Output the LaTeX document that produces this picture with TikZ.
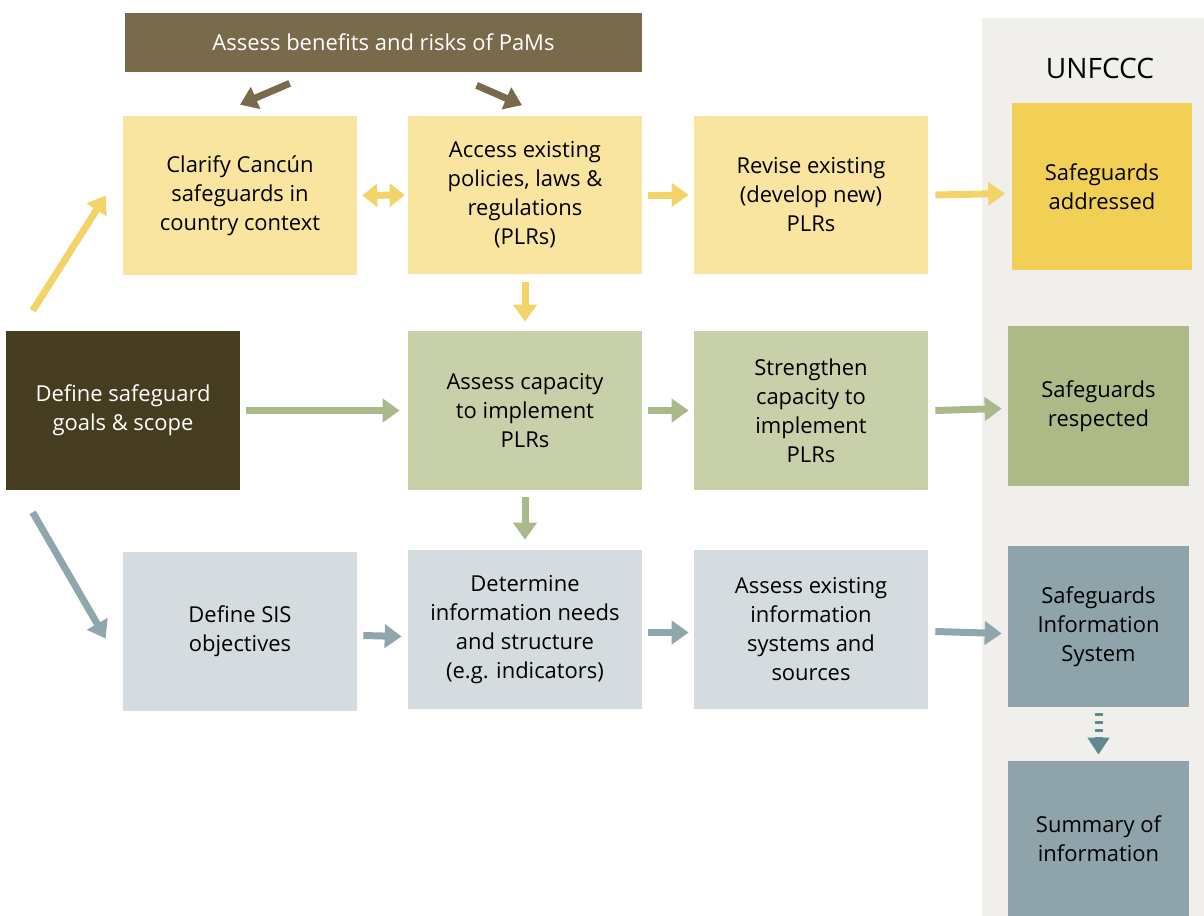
\documentclass[tikz,border=0pt]{standalone}
\usepackage{fontspec}
\setmainfont{Open Sans}
\usepackage{tikz}
\usetikzlibrary{arrows.meta}
\usetikzlibrary{positioning}
\definecolor{banner}{HTML}{7A6A4C}
\definecolor{darkbox}{HTML}{463C20}
\definecolor{panel}{HTML}{F0EFEB}
\definecolor{yelbox}{HTML}{F9E4A0}
\definecolor{yelarr}{HTML}{F2D468}
\definecolor{yelout}{HTML}{F2CF55}
\definecolor{grnbox}{HTML}{C7D0A8}
\definecolor{grnarr}{HTML}{AAB98A}
\definecolor{grnout}{HTML}{ADB987}
\definecolor{blubox}{HTML}{D4DCE0}
\definecolor{bluarr}{HTML}{8FA6AD}
\definecolor{bluout}{HTML}{8EA4AA}
\definecolor{bludash}{HTML}{5F8A8F}
\tikzset{x=0.02cm, y=-0.02cm,
         every node/.style={font=\fontsize{12.5}{16.5}\selectfont}, % text size of all labels
         box/.style={ % Sets the properties for each step box
           minimum width=4.68cm, minimum height=3.18cm,
           inner sep=0pt, align=center},
         outbox/.style={ % boxes in the UNFCCC column
           minimum width=3.62cm, minimum height=3.22cm,
           inner sep=0pt, align=center},
         flow/.style={ % Sets the properties for each thick arrow
           line width=0.14cm,
           -{Triangle[width=0.46cm,length=0.34cm]}}}

\begin{document}
\begin{tikzpicture}
      \useasboundingbox (0,0) rectangle (1204,916);
      \fill[panel] (982,18) rectangle (1204,916);
      \node at (1100,68) {\fontsize{16}{19}\selectfont UNFCCC};

      \node[fill=banner, text=white, minimum width=10.34cm, minimum height=1.18cm,
            inner sep=0pt] (pams) at (383.5,42.5) {Assess benefits and risks of PaMs};

      % first row
      \node[box, fill=yelbox] (clarify) at (240,195.5) {Clarify Cancún\\safeguards in\\country context};
      \node[box, fill=yelbox] (access) at (525,195) {Access existing\\policies, laws \&\\regulations\\(PLRs)};
      \node[box, fill=yelbox] (revise) at (811,195) {Revise existing\\(develop new)\\PLRs};
      \node[outbox, fill=yelout, minimum height=3.34cm] (addressed) at (1102,186.5) {Safeguards\\addressed};

      % second row
      \node[box, fill=darkbox, text=white] (define) at (123,410.5) {Define safeguard\\goals \& scope};
      \node[box, fill=grnbox] (capacity) at (525,410.5) {Assess capacity\\to implement\\PLRs};
      \node[box, fill=grnbox] (strengthen) at (811,410.5) {Strengthen\\capacity to\\implement\\PLRs};
      \node[outbox, fill=grnout] (respected) at (1098.5,406) {Safeguards\\respected};

      % third row
      \node[box, fill=blubox] (sis) at (240,631.5) {Define SIS\\objectives};
      \node[box, fill=blubox] (needs) at (525,629.5) {Determine\\information needs\\and structure\\(e.g. indicators)};
      \node[box, fill=blubox] (systems) at (811,629.5) {Assess existing\\information\\systems and\\sources};
      \node[outbox, fill=bluout] (infosys) at (1098.5,626.5) {Safeguards\\Information\\System};
      \node[outbox, fill=bluout, minimum height=3.1cm] (summary) at (1098.5,838.5) {Summary of\\information};

      % arrows from the banner
      \draw[flow, draw=banner] ([xshift=3.3cm,yshift=-0.22cm]pams.south west) -- ([yshift=0.22cm]clarify.north);
      \draw[flow, draw=banner] ([xshift=7.04cm,yshift=-0.26cm]pams.south west) -- ([xshift=-0.06cm,yshift=0.2cm]access.north);

      % yellow arrows
      \draw[flow, draw=yelarr] ([xshift=0.54cm,yshift=0.4cm]define.north west) -- ([xshift=-0.34cm]clarify.west);
      \draw[flow, draw=yelarr, {Triangle[width=0.46cm,length=0.3cm]}-{Triangle[width=0.46cm,length=0.3cm]}]
            ([xshift=0.1cm]clarify.east) -- ([xshift=-0.06cm]access.west);
      \draw[flow, draw=yelarr] ([xshift=0.12cm]access.east) -- ([xshift=-0.1cm]revise.west);
      \draw[flow, draw=yelarr] ([xshift=0.14cm]revise.east) -- ([xshift=-0.12cm,yshift=0.03cm]addressed.west |- revise.east);
      \draw[flow, draw=yelarr] ([yshift=-0.14cm]access.south) -- ([yshift=0.18cm]capacity.north);

      % green arrows
      \draw[flow, draw=grnarr] ([xshift=0.12cm]define.east) -- ([xshift=-0.16cm]capacity.west);
      \draw[flow, draw=grnarr] ([xshift=0.12cm]capacity.east) -- ([xshift=-0.1cm]strengthen.west);
      \draw[flow, draw=grnarr] ([xshift=0.14cm]strengthen.east) -- ([xshift=-0.12cm,yshift=0.04cm]respected.west |- strengthen.east);
      \draw[flow, draw=grnarr] ([yshift=-0.14cm]capacity.south) -- ([yshift=0.2cm]needs.north);

      % blue arrows
      \draw[flow, draw=bluarr] ([xshift=0.54cm,yshift=-0.44cm]define.south west) -- ([xshift=-0.34cm,yshift=-0.14cm]sis.west);
      \draw[flow, draw=bluarr] ([xshift=0.12cm,yshift=-0.08cm]sis.east) -- ([xshift=-0.12cm,yshift=-0.14cm]needs.west);
      \draw[flow, draw=bluarr] ([xshift=0.12cm,yshift=-0.06cm]needs.east) -- ([xshift=-0.1cm,yshift=-0.06cm]systems.west);
      \draw[flow, draw=bluarr] ([xshift=0.14cm,yshift=-0.04cm]systems.east) -- ([xshift=-0.12cm,yshift=-0.08cm]infosys.west |- systems.east);
      \draw[flow, draw=bludash, line width=0.16cm, dash pattern=on 0.06cm off 0.1cm,
            -{Triangle[width=0.42cm,length=0.34cm]}]
            ([yshift=-0.12cm]infosys.south) -- ([yshift=0.12cm]summary.north);
\end{tikzpicture}
\end{document}
